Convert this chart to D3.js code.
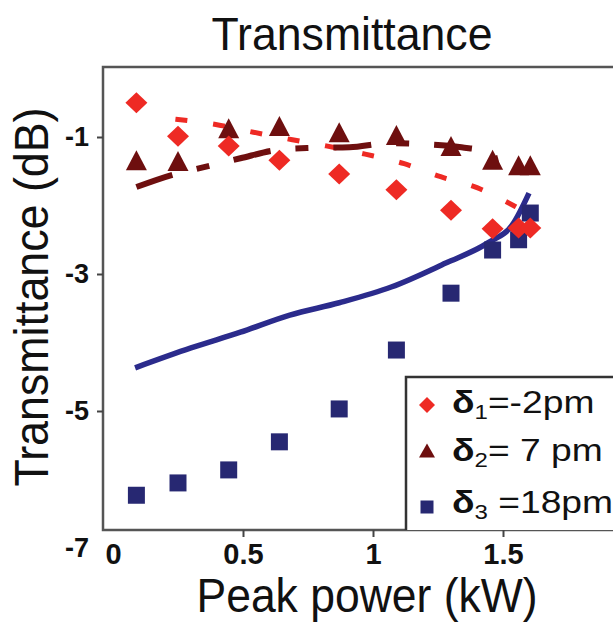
<!DOCTYPE html>
<html>
<head>
<meta charset="utf-8">
<script src="https://cdn.jsdelivr.net/npm/d3@7"></script>
<style>
  body { margin: 0; background: #fff; }
  svg { display: block; font-family: "Liberation Sans", Arial, sans-serif; }
</style>
</head>
<body>
<script>
// measured points (peak power in kW, transmittance in dB)
var power = [0.09, 0.25, 0.445, 0.64, 0.87, 1.09, 1.3, 1.46, 1.56, 1.605];
var delta1 = [-0.5, -0.99, -1.13, -1.34, -1.54, -1.77, -2.07, -2.34, -2.33, -2.33];
var delta2 = [-1.37, -1.38, -0.9, -0.87, -0.96, -1.0, -1.16, -1.36, -1.44, -1.44];
var delta3 = [-6.23, -6.05, -5.86, -5.45, -4.97, -4.11, -3.28, -2.65, -2.5, -2.11];

// simulated curves
var fit1Power = [0.24, 0.4, 0.54, 0.69, 0.82, 0.97, 1.12, 1.26, 1.4, 1.52, 1.55];
var fit1 = [-0.74, -0.82, -0.93, -1.04, -1.13, -1.25, -1.39, -1.58, -1.74, -1.96, -2.02];
var fit2Power = [0.09, 0.23, 0.35, 0.49, 0.63, 0.76, 0.91, 1.06, 1.17, 1.34, 1.46, 1.475];
var fit2 = [-1.73, -1.55, -1.44, -1.31, -1.19, -1.16, -1.15, -1.09, -1.1, -1.15, -1.23, -1.4];
var fit3Power = [0.085, 0.3, 0.49, 0.68, 0.87, 1.07, 1.28, 1.44, 1.54, 1.6];
var fit3 = [-4.37, -4.08, -3.85, -3.6, -3.42, -3.19, -2.84, -2.55, -2.26, -1.82];

var xTicks = [0, 0.5, 1, 1.5];
var yTicks = [-1, -3, -5, -7];
var legendLabels = [
  { sym: "δ", sub: "1", rest: "=-2pm" },
  { sym: "δ", sub: "2", rest: "= 7 pm" },
  { sym: "δ", sub: "3", rest: " =18pm" }
];

var W = 613, H = 627;
var red = "#ee2a24", darkRed = "#6e0f0f", navy = "#272872", blue = "#2b2b8c";

var svg = d3.select("body").append("svg").attr("width", W).attr("height", H);

var x = d3.scaleLinear().domain([0, 1.5]).range([113, 503]);
var y = d3.scaleLinear().domain([0, -7]).range([68.5, 548]);

var plotLeft = 103, plotTop = 67, plotBottom = 530;

// title
svg.append("text")
  .attr("x", 352).attr("y", 50)
  .attr("text-anchor", "middle")
  .attr("font-size", 46)
  .attr("textLength", 281).attr("lengthAdjust", "spacingAndGlyphs")
  .attr("fill", "#111")
  .text("Transmittance");

// frame
svg.append("path")
  .attr("d", `M${W},${plotTop}H${plotLeft}V${plotBottom}H${W}`)
  .attr("fill", "none").attr("stroke", "#555").attr("stroke-width", 2.5);

// x axis ticks + labels
var xAxis = svg.append("g").attr("transform", `translate(0,${plotBottom})`)
  .call(d3.axisBottom(x).tickValues(xTicks).tickSize(7).tickPadding(6).tickFormat(d => String(d)));
xAxis.select(".domain").remove();
xAxis.selectAll(".tick line").attr("stroke", "#444").attr("stroke-width", 2)
  .filter(d => d === 0).remove();
xAxis.selectAll(".tick text").attr("font-size", 29).attr("font-weight", "bold")
  .attr("font-family", "Liberation Sans, Arial, sans-serif").attr("fill", "#111");

// y axis ticks + labels
var yAxis = svg.append("g").attr("transform", `translate(${plotLeft},0)`)
  .call(d3.axisLeft(y).tickValues(yTicks).tickSize(6).tickPadding(8).tickFormat(d => String(d)));
yAxis.select(".domain").remove();
yAxis.selectAll(".tick line").attr("stroke", "#444").attr("stroke-width", 2)
  .filter(d => d === -7).remove();
yAxis.selectAll(".tick text").attr("font-size", 27).attr("font-weight", "bold")
  .attr("font-family", "Liberation Sans, Arial, sans-serif").attr("fill", "#111");

// axis titles
svg.append("text")
  .attr("x", 367).attr("y", 612)
  .attr("text-anchor", "middle")
  .attr("font-size", 48)
  .attr("textLength", 341).attr("lengthAdjust", "spacingAndGlyphs")
  .attr("fill", "#111")
  .text("Peak power (kW)");

svg.append("text")
  .attr("transform", "translate(48,297) rotate(-90)")
  .attr("text-anchor", "middle")
  .attr("font-size", 48)
  .attr("textLength", 379).attr("lengthAdjust", "spacingAndGlyphs")
  .attr("fill", "#111")
  .text("Transmittance (dB)");

// curves
var line = (xs, ys) => d3.line()
  .x((d, i) => x(xs[i]))
  .y(d => y(d))
  .curve(d3.curveMonotoneX)(ys);

svg.append("path").attr("d", line(fit3Power, fit3))
  .attr("fill", "none").attr("stroke", blue).attr("stroke-width", 5.5);
svg.append("path").attr("d", line(fit1Power, fit1))
  .attr("fill", "none").attr("stroke", red).attr("stroke-width", 5)
  .attr("stroke-dasharray", "12,26");
svg.append("path").attr("d", line(fit2Power, fit2))
  .attr("fill", "none").attr("stroke", darkRed).attr("stroke-width", 6)
  .attr("stroke-dasharray", "38,25,13,25");

// marker shapes
var diamond = (w, h) => `M0,${-h}L${w},0L0,${h}L${-w},0Z`;
var triangle = (w, h) => `M0,${-h * 0.6}L${w},${h * 0.4}L${-w},${h * 0.4}Z`;
var square = (s) => `M${-s},${-s}H${s}V${s}H${-s}Z`;

svg.append("g").selectAll("path").data(delta3).join("path")
  .attr("d", square(8.5)).attr("fill", navy)
  .attr("transform", (d, i) => `translate(${x(power[i])},${y(d)})`);
svg.append("g").selectAll("path").data(delta2).join("path")
  .attr("d", triangle(10.5, 20)).attr("fill", darkRed)
  .attr("transform", (d, i) => `translate(${x(power[i])},${y(d)})`);
svg.append("g").selectAll("path").data(delta1).join("path")
  .attr("d", diamond(11, 10.5)).attr("fill", red)
  .attr("transform", (d, i) => `translate(${x(power[i])},${y(d)})`);

// legend
var legend = svg.append("g");
legend.append("rect").attr("x", 406).attr("y", 377).attr("width", 260).attr("height", plotBottom - 377)
  .attr("fill", "#fff");
legend.append("path").attr("d", `M${W},377H406V${plotBottom}`)
  .attr("fill", "none").attr("stroke", "#333").attr("stroke-width", 2.5);

var rowY = [413, 461, 513];
var markY = [405, 452, 507];
var markers = [
  { d: diamond(8, 8), c: red },
  { d: triangle(8, 14), c: darkRed },
  { d: square(6.5), c: navy }
];
markers.forEach((m, i) => {
  legend.append("path").attr("d", m.d).attr("fill", m.c)
    .attr("transform", `translate(427,${markY[i]})`);
});
legendLabels.forEach((l, i) => {
  var t = legend.append("text")
    .attr("transform", `translate(452,${rowY[i]}) scale(1.2,1)`)
    .attr("font-size", 31).attr("fill", "#111");
  t.append("tspan").attr("font-weight", "bold").text(l.sym);
  t.append("tspan").attr("font-size", 20).attr("dy", 6).text(l.sub);
  t.append("tspan").attr("dy", -6).text(l.rest);
});
</script>
</body>
</html>
